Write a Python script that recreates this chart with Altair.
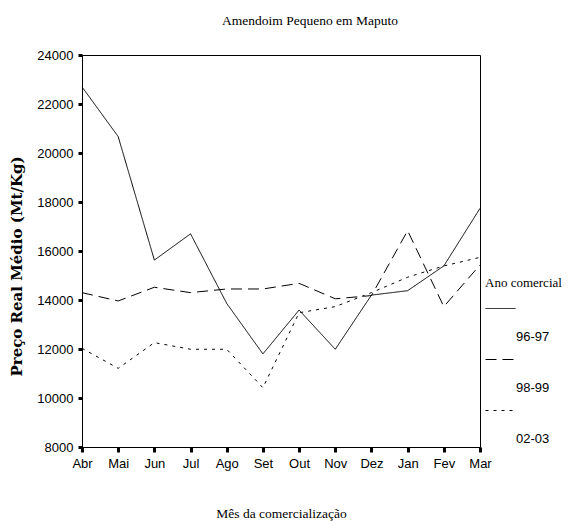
import altair as alt
import pandas as pd

months = ["Abr", "Mai", "Jun", "Jul", "Ago", "Set", "Out", "Nov", "Dez", "Jan", "Fev", "Mar"]
series_names = ["96-97", "98-99", "02-03"]
s_9697 = [22700, 20670, 15630, 16700, 13860, 11800, 13590, 11990, 14200, 14380, 15390, 17740]
s_9899 = [14300, 13960, 14520, 14300, 14450, 14450, 14680, 14050, 14180, 16830, 13730, 15430]
s_0203 = [12030, 11210, 12260, 11990, 11990, 10420, 13480, 13730, 14300, 14930, 15390, 15740]
y_ticks = [8000, 10000, 12000, 14000, 16000, 18000, 20000, 22000, 24000]

rows = []
for name, vals in zip(series_names, [s_9697, s_9899, s_0203]):
    for m, v in zip(months, vals):
        rows.append({"Mês": m, "Preço": v, "Ano comercial": name})
df = pd.DataFrame(rows)

chart = alt.Chart(df).mark_line(color="black", strokeWidth=1).encode(
    x=alt.X("Mês:N", sort=months,
            scale=alt.Scale(type="point", padding=0),
            axis=alt.Axis(title="Mês da comercialização", labelAngle=0,
                          tickSize=5, tickWidth=3, tickColor="black",
                          domainColor="black", labelPadding=5,
                          labelFont="Liberation Sans", labelFontSize=13, labelColor="black",
                          titleFont="Liberation Serif", titleFontSize=13.5,
                          titleFontWeight="normal", titleColor="black",
                          titleBaseline="middle", titleY=66)),
    y=alt.Y("Preço:Q",
            scale=alt.Scale(domain=[8000, 24000], nice=False, zero=False),
            axis=alt.Axis(title="Preço Real Médio (Mt/Kg)", values=y_ticks, format="d",
                          tickSize=4, tickWidth=3, tickColor="black",
                          domainColor="black", labelPadding=5, grid=False,
                          labelFont="Liberation Sans", labelFontSize=13, labelColor="black",
                          titleFont="DejaVu Serif", titleFontSize=15,
                          titleFontWeight="bold", titleColor="black",
                          titleAngle=270, titleAlign="center", titleBaseline="middle",
                          titleX=-66, titleY=211)),
    strokeDash=alt.StrokeDash("Ano comercial:N", sort=series_names,
                              scale=alt.Scale(domain=series_names,
                                              range=[[1, 0], [11, 6], [3, 5]]),
                              legend=alt.Legend(orient="none", legendX=403, legendY=222,
                                                symbolType="stroke", symbolSize=900,
                                                symbolStrokeWidth=1, symbolStrokeColor="black",
                                                labelExpr="['', datum.label]",
                                                labelBaseline="top", labelOffset=0,
                                                labelFont="Liberation Sans", labelFontSize=13,
                                                labelColor="black",
                                                titleFont="Liberation Serif", titleFontSize=13,
                                                titleFontWeight="normal", titleColor="black",
                                                titlePadding=3, rowPadding=0)),
).properties(
    width=398, height=392,
    title=alt.Title("Amendoim Pequeno em Maputo", font="Liberation Serif", fontSize=13.5,
                    fontWeight="normal", color="black", anchor="middle",
                    baseline="bottom", offset=28, dx=29, dy=20),
    autosize=alt.AutoSizeParams(type="none"),
    padding={"left": 74, "top": 47, "right": 85, "bottom": 74},
).configure(
    background="white",
    view=alt.ViewConfig(stroke="black", strokeWidth=1),
    style={"guide-label": {"lineHeight": 22}},
)

chart.save("out.html", embed_options={"renderer": "svg", "actions": False})
